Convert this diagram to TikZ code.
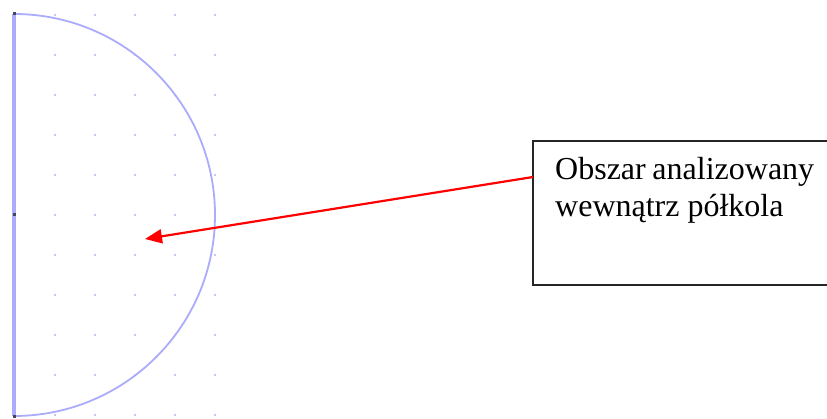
\documentclass[tikz,border=0pt]{standalone}
\usepackage{fontspec}
\setmainfont{Liberation Serif}
\usetikzlibrary{arrows.meta}
\definecolor{arccol}{RGB}{172,172,252}
\definecolor{gridcol}{RGB}{200,200,238}
\definecolor{markcol}{RGB}{70,70,90}
\tikzset{
  gridpt/.style={fill=gridcol, draw=none},
  markpt/.style={fill=markcol, draw=none},
  labelbox/.style={draw=black!85, line width=2pt, rectangle, minimum width=307pt, minimum height=144pt, inner sep=0pt},
  labeltext/.style={inner sep=0pt, font=\fontsize{32pt}{37pt}\selectfont, text=black},
  pointer/.style={draw=red, line width=2.2pt, -{Triangle[length=17pt,width=14pt]}}
}
\begin{document}
\begin{tikzpicture}[x=1pt,y=1pt]
\useasboundingbox (0,0) rectangle (827,418);
\clip (0,0) rectangle (827,418);
\fill[white] (0,0) rectangle (827,418);
% grid dots
\foreach \i in {0,...,4}{
  \foreach \j in {0,...,10}{
    \fill[gridpt] ({55+40*\i-0.9},{403-40*\j-0.9}) rectangle ++(1.8,1.8);
  }
}
% semicircle
\draw[arccol, line width=3.5pt] (14,404) -- (14,2);
\draw[arccol, line width=1.8pt] (14,404) arc[start angle=90, end angle=-90, radius=201];
% marks
\fill[markpt] (12.5,402.5) rectangle ++(3,3);
\fill[markpt] (12.5,201.5) rectangle ++(3,3);
\fill[markpt] (12.5,0.5) rectangle ++(3,3);
% label box
\node[labelbox] (box) at (686.5,205) {};
\node[labeltext, anchor=base west] (l1) at (555,238) {\makebox[259pt][s]{Obszar analizowany}};
\node[labeltext, anchor=base west] (l2) at (555,201) {wewnątrz półkola};
% arrow
\coordinate (src) at (533,241);
\coordinate (tip) at (145,179);
\draw[pointer] (src) -- (tip);
\end{tikzpicture}
\end{document}
